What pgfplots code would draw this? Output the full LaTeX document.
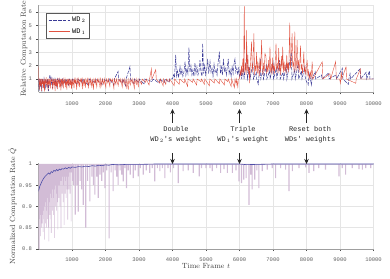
\documentclass[border=0pt]{standalone}
\usepackage{fontspec}
\setmonofont{Liberation Mono}
\usepackage{pgfplots}
\pgfplotsset{compat=1.18}
\usetikzlibrary{arrows.meta}
\definecolor{wdred}{RGB}{222,64,44}
\definecolor{wdblue}{RGB}{58,58,150}
\definecolor{qfill}{RGB}{210,188,214}
\definecolor{qline}{RGB}{78,78,168}
\pgfplotsset{
  myax/.style={
    scale only axis, width=335pt, xmin=0, xmax=10000,
    xtick={1000,2000,...,10000},
    grid=major, major grid style={gray!20, line width=0.5pt},
    axis x line*=bottom, axis y line*=left,
    axis line style={gray!75, line width=0.6pt},
    tick style={gray!60!black, line width=0.5pt},
    tick align=outside, major tick length=2pt,
    ticklabel style={font=\ttfamily\fontsize{5.5}{6}\selectfont, text=gray!75!black},
    xticklabel style={yshift=-3.5pt},
    yticklabel style={xshift=-1pt},
    /pgf/number format/assume math mode=true,
    /pgf/number format/set thousands separator={},
    scaled x ticks=false,
    label style={font=\fontsize{7.5}{9}\selectfont, text=black!75},
  }
}
\begin{document}
\begin{tikzpicture}
\path[use as bounding box] (0,0) rectangle (390pt,278pt);
% ---------------- upper axis ----------------
\begin{axis}[myax, at={(38.5pt,185.6pt)}, anchor=south west, height=87.1pt,
  ymin=0, ymax=6.5, ytick={1,2,3,4,5,6},
  ylabel={Relative Computation Rate},
  ylabel style={at={(axis description cs:-0.0433,0.5)}, anchor=center},
  legend style={at={(rel axis cs:0.0224,0.915)}, anchor=north west,
    draw=gray!70!black, line width=0.6pt, fill=white,
    font=\ttfamily\fontsize{7}{8}\selectfont, inner xsep=2pt, inner ysep=2pt,
    row sep=1.5pt},
  legend cell align=left,
  legend image code/.code={\draw[#1, line width=0.8pt] (0pt,0pt) -- (21pt,0pt);},
]
\addplot[wdblue, line width=0.5pt, dash pattern=on 3.5pt off 1.2pt] coordinates {
(0,1)(20,0.1)(35,1)(60,0.4)(75,1)(100,0.05)(115,1)(150,0.6)(165,1)(200,0.2)(215,1)(250,0.5)(265,1)(300,0.1)(315,1)(343,1.3)(358,1)(380,0.7)(395,1)(420,0.3)(435,1)(480,0.6)(495,1)(550,0.4)(565,1)(620,0.75)(635,1)(700,0.5)(715,1)(800,0.65)(815,1)(900,0.55)(915,1)(1000,0.7)(1015,1)(1150,0.6)(1165,1)(1300,0.75)(1315,1)(1500,0.5)(1515,1)(1700,0.7)(1715,1)(1900,0.6)(1915,1)(2100,0.8)(2115,1)(2250,0.55)(2265,1)(2375,1.55)(2390,1)(2500,0.7)(2515,1)(2600,0.5)(2615,1)(2730,1.92)(2745,1)(2850,0.65)(2865,1)(3000,0.75)(3015,1)(3150,0.6)(3165,1)(3400,0.8)(3415,1)(3600,0.7)(3615,1)(3760,0.75)(3775,1)(3900,0.75)(3915,1)(4000,1)
(4030,1.3)(4060,1.1)(4095,2.79)(4120,1.2)(4150,1.6)(4180,1.1)(4225,1.92)(4250,1.3)(4280,1.7)(4310,1.2)(4340,1.5)(4375,2.29)(4400,1.3)(4430,1.8)(4460,1.4)(4490,3.34)(4520,1.5)(4550,2.0)(4580,1.3)(4610,1.7)(4640,1.2)(4670,2.2)(4700,1.4)(4730,1.9)(4760,1.3)(4790,1.6)(4820,2.4)(4850,1.5)(4880,1.2)(4900,3.66)(4930,1.4)(4960,2.0)(4990,1.3)(5020,1.7)(5050,2.5)(5080,1.4)(5120,2.3)(5150,1.5)(5180,1.8)(5210,1.2)(5240,2.1)(5270,1.5)(5300,1.7)(5330,1.3)(5360,2.2)(5400,3.04)(5430,1.4)(5460,1.9)(5490,1.3)(5520,2.5)(5550,1.6)(5580,1.8)(5610,1.3)(5640,2.0)(5665,2.5)(5690,1.4)(5720,1.7)(5750,1.2)(5780,1.9)(5810,1.4)(5840,2.2)(5865,2.5)(5890,1.5)(5920,1.8)(5950,1.3)(5980,1.9)(6000,1.2)
(6050,1.6)(6065,1)(6120,2.0)(6135,1)(6220,2.9)(6235,1)(6300,1.8)(6315,1)(6400,2.2)(6415,1)(6500,1.5)(6515,1)(6560,0.6)(6575,1)(6620,2.5)(6635,1)(6700,1.7)(6715,1)(6800,2.0)(6815,1)(6900,1.6)(6915,1)(7000,2.2)(7015,1)(7100,1.8)(7115,1)(7200,2.4)(7215,1)(7300,1.5)(7315,1)(7400,2.0)(7415,1)(7550,3.0)(7565,1)(7650,1.7)(7665,1)(7750,2.1)(7765,1)(7850,1.6)(7865,1)(7950,1.9)(7965,1)(8050,0.55)(8065,1)(8100,1.4)(8115,1)(8150,0.55)(8165,1)(8260,1.55)(8275,1)(8450,1.3)(8465,1)(8660,1.45)(8675,1)(8880,1.3)(8895,1)(9070,1.8)(9085,1)(9250,0.6)(9265,1)(9300,1.4)(9315,1)(9600,1.76)(9615,1)(9780,1.5)(9795,1)(9880,1.6)(9895,1)(10000,1)
};
\addlegendentry{WD\,$_{2}$}
\addplot[wdred, line width=0.4pt, opacity=0.9] coordinates {
(0,2.0)(10,1)(25,0.2)(40,1)(55,0.5)(70,1)(85,0.1)(100,1)(115,0.6)(130,1)(150,0.3)(165,1)(180,0.05)(195,1)(215,0.7)(230,1)(250,0.4)(265,1)(285,0.15)(300,1)(320,0.6)(335,1)(355,0.3)(370,1)(390,0.8)(405,1)(425,0.2)(440,1)(460,0.55)(475,1)(495,0.1)(510,1)(530,0.45)(545,1)(565,0.25)(580,1)(600,0.7)(615,1)(635,0.35)(650,1)(670,0.15)(685,1)(705,0.6)(720,1)(740,0.3)(755,1)(775,0.75)(790,1)(810,0.4)(825,1)(845,0.2)(860,1)(880,0.65)(895,1)(915,0.35)(930,1)(950,0.55)(965,1)(985,0.25)(1000,1)
(1020,0.5)(1035,1)(1060,0.3)(1075,1)(1100,0.7)(1115,1)(1140,0.2)(1155,1)(1185,0.6)(1200,1)(1230,0.4)(1245,1)(1270,0.8)(1285,1)(1310,0.25)(1325,1)(1355,0.55)(1370,1)(1400,0.35)(1415,1)(1445,0.7)(1460,1)(1490,0.3)(1505,1)(1540,0.6)(1555,1)(1590,0.45)(1605,1)(1640,0.2)(1655,1)(1690,0.65)(1705,1)(1740,0.4)(1755,1)(1790,0.75)(1805,1)(1840,0.3)(1855,1)(1890,0.5)(1905,1)(1950,0.6)(1965,1)(2010,0.35)(2025,1)(2070,0.7)(2085,1)(2130,0.45)(2145,1)(2190,0.8)(2205,1)(2250,0.3)(2265,1)(2310,0.6)(2325,1)(2380,0.5)(2395,1)(2440,0.75)(2455,1)(2500,0.4)(2515,1)(2560,0.65)(2575,1)(2620,0.35)(2635,1)(2680,0.2)(2695,1)(2740,0.55)(2755,1)(2800,0.7)(2815,1)(2860,0.3)(2875,1)(2920,0.6)(2935,1)(2980,0.45)(2995,1)
(3080,0.6)(3095,1)(3200,0.75)(3215,1)(3300,0.55)(3315,1)(3370,1.75)(3385,1)(3500,1.7)(3515,1)(3620,0.7)(3635,1)(3720,0.5)(3735,1)(3800,0.6)(3815,1)(3900,0.8)(3915,1)
(4050,0.5)(4065,1)(4200,0.6)(4215,1)(4350,0.7)(4365,1)(4450,0.45)(4465,1)(4600,0.75)(4615,1)(4720,0.55)(4735,1)(4850,0.8)(4865,1)(4950,0.6)(4965,1)(5100,0.5)(5115,1)(5250,0.7)(5265,1)(5400,0.65)(5415,1)(5550,0.55)(5565,1)(5650,0.8)(5665,1)(5750,0.45)(5765,1)(5850,0.35)(5865,1)(5900,0.6)(5915,1)(5950,0.4)(5965,1)(6000,1)
(6020,1.6)(6040,1.2)(6060,2.0)(6080,1.3)(6100,2.5)(6120,1.4)(6143,6.45)(6160,1.5)(6180,2.2)(6200,1.3)(6210,4.66)(6230,1.6)(6250,2.8)(6270,1.4)(6290,1.9)(6300,0.7)(6310,1.2)(6330,2.4)(6360,3.78)(6380,1.5)(6400,2.1)(6430,4.41)(6450,1.3)(6470,2.0)(6490,1.6)(6510,3.0)(6530,1.4)(6550,2.3)(6570,1.7)(6590,1.2)(6610,2.6)(6630,1.5)(6660,3.9)(6680,1.8)(6700,1.3)(6720,2.2)(6740,1.6)(6760,2.9)(6790,2.7)(6810,1.4)(6830,2.0)(6850,1.5)(6870,2.4)(6890,1.7)(6910,3.41)(6930,1.5)(6950,2.1)(6970,1.3)(6990,2.6)(7010,1.6)(7030,2.0)(7050,1.4)(7070,2.5)(7090,3.66)(7110,1.7)(7130,2.2)(7150,1.4)(7170,3.3)(7190,1.6)(7210,2.1)(7230,1.3)(7250,2.7)(7270,1.8)(7290,3.41)(7310,1.5)(7330,2.3)(7350,1.6)(7370,2.0)(7390,1.4)(7410,2.8)(7430,1.7)(7450,2.2)(7470,1.5)(7500,5.2)(7520,1.8)(7540,2.5)(7570,4.41)(7590,1.9)(7610,2.3)(7630,1.5)(7650,4.53)(7670,2.0)(7690,1.6)(7720,3.9)(7740,1.8)(7760,2.4)(7780,1.5)(7800,2.2)(7820,3.5)(7840,1.7)(7860,2.1)(7880,1.4)(7900,2.0)(7920,3.04)(7940,1.5)(7960,1.8)(7980,1.3)(8000,2.0)(8020,2.42)(8040,1.2)(8060,1.6)(8080,1)(8120,1.5)(8140,1)(8170,2.3)(8190,1)
(8470,2.29)(8490,1)(8700,1.4)(8720,1)(8870,2.29)(8890,1)(8990,1)(9010,0.68)(9025,1)(9040,1.55)(9055,1)(9180,1.91)(9195,1)(9470,0.68)(9485,1)(9610,1.75)(9625,1)(10000,1)
};
\addlegendentry{WD\,$_{1}$}
\draw[gray!20, line width=0.5pt] (rel axis cs:0,1) -- (rel axis cs:1,1);
\end{axis}
% ---------------- lower axis ----------------
\begin{axis}[myax, at={(38.5pt,29pt)}, anchor=south west, height=85.85pt,
  ymin=0.8, ymax=1.002, ytick={0.8,0.85,0.9,0.95,1},
  ylabel={Normalized Computation Rate $\hat{Q}$},
  ylabel style={at={(axis description cs:-0.0776,0.5)}, anchor=center},
  xlabel={Time Frame $t$},
  xlabel style={at={(axis description cs:0.5,-0.198)}, anchor=center},
]
\addplot[const plot, fill=qfill, draw=none] coordinates {
(0,1)(0,0.80)(30,0.87)(45,0.83)(60,0.88)(75,0.85)(90,0.90)(100,0.86)(115,0.88)(130,0.84)(145,0.89)(160,0.87)(170,0.822)(185,0.90)(200,0.86)(215,0.91)(230,0.85)(245,0.89)(260,0.87)(275,0.92)(290,0.85)(300,0.818)(315,0.91)(330,0.88)(345,0.93)(360,0.87)(373,0.838)(390,0.92)(405,0.89)(420,0.94)(435,0.88)(450,0.92)(465,0.826)(480,0.94)(495,0.90)(510,0.95)(525,0.89)(540,0.93)(555,0.91)(570,0.846)(585,0.95)(600,0.92)(615,0.95)(630,0.90)(645,0.96)(660,0.849)(680,0.96)(695,0.93)(710,0.97)(725,0.91)(740,0.95)(755,0.857)(775,0.97)(790,0.93)(805,0.96)(820,0.92)(835,0.97)(850,0.94)(865,0.869)(885,0.97)(900,0.94)(915,0.98)(930,0.93)(950,0.98)(965,0.865)(985,0.98)(1000,0.96)
(1030,0.95)(1065,0.999)(1080,0.881)(1115,0.999)(1130,0.95)(1165,0.999)(1170,0.888)(1205,0.999)(1225,0.96)(1260,0.999)(1270,0.94)(1305,0.999)(1320,0.904)(1355,0.999)(1395,0.85)(1430,0.999)(1450,0.96)(1485,0.999)(1515,0.912)(1550,0.999)(1575,0.97)(1610,0.999)(1620,0.95)(1655,0.999)(1665,0.928)(1700,0.999)(1720,0.97)(1755,0.999)(1765,0.92)(1800,0.999)(1820,0.975)(1855,0.999)(1870,0.96)(1905,0.999)(1920,0.98)(1955,0.999)(1965,0.943)(2000,0.999)(2020,0.985)(2055,0.999)(2090,0.825)(2125,0.999)(2150,0.98)(2185,0.999)(2210,0.936)(2245,0.999)(2270,0.985)(2305,0.999)(2320,0.97)(2355,0.999)(2360,0.951)(2395,0.999)(2420,0.985)(2455,0.999)(2470,0.975)(2505,0.999)(2510,0.959)(2545,0.999)(2560,0.99)(2595,0.999)(2610,0.943)(2645,0.999)(2660,0.985)(2695,0.999)(2720,0.975)(2755,0.999)(2810,0.967)(2845,0.999)(2870,0.985)(2905,0.999)(2960,0.971)(2995,0.999)(3020,0.99)(3055,0.999)(3110,0.975)(3145,0.999)(3200,0.985)(3235,0.999)(3305,0.979)(3340,0.999)(3380,0.99)(3415,0.999)(3455,0.959)(3490,0.999)(3530,0.99)(3565,0.999)(3605,0.983)(3640,0.999)(3680,0.99)(3715,0.999)(3755,0.967)(3790,0.999)(3850,0.99)(3885,0.999)(3920,0.98)(3955,0.999)
(4010,0.99)(4045,0.999)(4155,0.955)(4190,0.999)(4300,0.983)(4335,0.999)(4450,0.985)(4485,0.999)(4600,0.979)(4635,0.999)(4780,0.971)(4815,0.999)(4850,0.99)(4885,0.999)(4980,0.99)(5015,0.999)(5100,0.99)(5135,0.999)(5170,0.983)(5205,0.999)(5300,0.99)(5335,0.999)(5420,0.979)(5455,0.999)(5520,0.988)(5555,0.999)(5620,0.979)(5655,0.999)(5770,0.979)(5805,0.999)(5880,0.985)(5915,0.999)(5965,0.959)(6000,0.999)(6040,0.955)(6075,0.999)(6110,0.963)(6145,0.999)(6180,0.967)(6215,0.999)(6264,0.904)(6299,0.999)(6320,0.975)(6355,0.999)(6360,0.94)(6395,0.999)(6440,0.963)(6475,0.999)(6500,0.985)(6535,0.999)(6560,0.943)(6595,0.999)(6660,0.983)(6695,0.999)(6810,0.987)(6845,0.999)(6960,0.99)(6995,0.999)(7060,0.967)(7095,0.999)(7210,0.99)(7245,0.999)(7360,0.987)(7395,0.999)(7458,0.936)(7493,0.999)(7560,0.983)(7595,0.999)(7760,0.99)(7795,0.999)(7960,0.992)(7995,0.999)(8055,0.979)(8090,0.999)(8200,0.983)(8235,0.999)(8350,0.99)(8385,0.999)(8550,0.987)(8585,0.999)(8950,0.971)(8985,0.999)(9050,0.99)(9085,0.999)(9150,0.975)(9185,0.999)(9350,0.99)(9385,0.999)(9550,0.988)(9585,0.999)(9650,0.987)(9685,0.999)(9750,0.99)(9785,0.999)(9900,0.99)(9935,0.999)(10000,1)
};
\addplot[qline, line width=0.6pt] coordinates {
(0,0.936)(40,0.948)(80,0.955)(120,0.962)(170,0.968)(210,0.972)(250,0.975)(300,0.979)(340,0.976)(380,0.982)(420,0.98)(460,0.985)(500,0.983)(540,0.987)(580,0.984)(620,0.988)(660,0.986)(700,0.989)(750,0.988)(800,0.991)(850,0.989)(900,0.992)(950,0.99)(1000,0.993)(1100,0.992)(1200,0.994)(1300,0.993)(1400,0.995)(1500,0.994)(1600,0.996)(1700,0.995)(1800,0.997)(1900,0.996)(2000,0.998)(2100,0.997)(2200,0.999)(2400,0.998)(2600,0.999)(3000,0.999)(3500,1)(6000,1)(6200,0.9985)(6500,0.999)(7000,1)(10000,1)
};
\end{axis}
% ---------------- annotations ----------------
\tikzset{annarr/.style={line width=0.6pt, black!85, -{Stealth[length=5pt,width=4.5pt]}},
         anntxt/.style={font=\ttfamily\fontsize{7}{10}\selectfont, align=center, text=black!85}}
\draw[annarr] (172.5pt,155pt) -- (172.5pt,169pt);
\draw[annarr] (239.5pt,155pt) -- (239.5pt,169pt);
\draw[annarr] (306.5pt,155pt) -- (306.5pt,169pt);
\node[anntxt] at (176pt,143pt) {Double\\WD\,$_{2}$'s weight};
\node[anntxt] at (243pt,143pt) {Triple\\WD\,$_{1}$'s weight};
\node[anntxt] at (310pt,143pt) {Reset both\\WDs' weights};
\draw[annarr] (172.5pt,125pt) -- (172.5pt,114pt);
\draw[annarr] (239.5pt,125pt) -- (239.5pt,114pt);
\draw[annarr] (306.5pt,125pt) -- (306.5pt,114pt);
\end{tikzpicture}
\end{document}
